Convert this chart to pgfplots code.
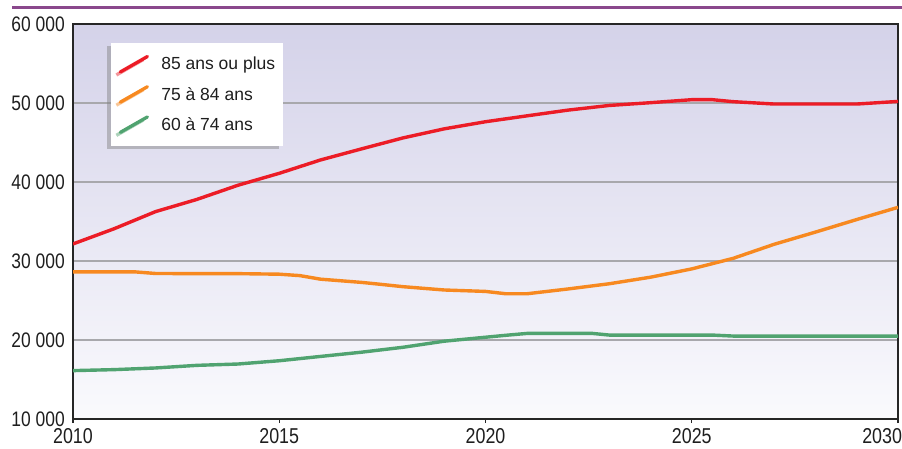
\documentclass[border=0pt]{standalone}
\usepackage{fontspec}
\setmainfont{Liberation Sans}
\newfontfamily\narrowfont{Liberation Sans}[FakeStretch=0.83]
\usepackage{pgfplots}
\pgfplotsset{compat=1.18}
\usetikzlibrary{shadows}
\definecolor{cred}{RGB}{236,28,38}
\definecolor{corange}{RGB}{247,137,32}
\definecolor{cgreen}{RGB}{80,163,112}
\definecolor{bgtop}{RGB}{212,210,233}
\definecolor{bgbot}{RGB}{250,250,253}
\definecolor{cpurple}{RGB}{138,72,140}
\definecolor{cgrid}{RGB}{168,168,172}
\definecolor{ctext}{RGB}{30,30,30}
\begin{document}
\begin{tikzpicture}[x=1pt,y=1pt]
\useasboundingbox (0,0) rectangle (902,448);
\clip (0,0) rectangle (902,448);
\draw[cpurple, line width=3pt] (12,440.7) -- (902,440.7);
\begin{axis}[
  at={(73pt,29pt)}, anchor=south west,
  width=825pt, height=395pt, scale only axis,
  xmin=2010, xmax=2030, ymin=10000, ymax=60000,
  scaled y ticks=false, scaled x ticks=false,
  xtick={2010,2015,2020,2025,2030},
  xticklabels={\mbox{2010},\mbox{2015},\mbox{2020},\mbox{2025},\makebox[0pt][r]{2030\kern-4pt}},
  ytick={10000,20000,30000,40000,50000,60000},
  yticklabels={\mbox{10 000},\mbox{20 000},\mbox{30 000},\mbox{40 000},\mbox{50 000},\mbox{60 000}},
  ymajorgrids, grid style={cgrid, line width=1.2pt},
  axis line style={black!85, line width=1.3pt},
  tick align=outside, major tick length=4pt,
  xtick pos=bottom, ytick pos=left,
  ytick style={draw=none},
  xtick style={black!85, line width=1.2pt},
  yticklabel style={font=\fontsize{21}{21}\selectfont\narrowfont, anchor=east, inner sep=0pt, xshift=-4pt, text=ctext},
  xticklabel style={font=\fontsize{21.5}{22}\selectfont\narrowfont, anchor=north, inner sep=0pt, yshift=-5pt, text=ctext},
  axis background/.style={shade, top color=bgtop, bottom color=bgbot},
  legend style={at={(0.0461,0.9527)}, anchor=north west, draw=none, fill=white,
    font=\fontsize{17.5}{18}\selectfont, text=ctext,
    drop shadow={shadow xshift=-4pt, shadow yshift=-3pt, fill=gray, opacity=0.45},
    inner xsep=7.5pt, inner ysep=12pt, row sep=11.5pt,
    nodes={inner sep=0pt},
    /tikz/every odd column/.append style={column sep=12.3pt}},
  legend cell align=left,
  legend image code/.code={\draw[#1, line width=3.3pt, line cap=round] (0pt,-7.7pt) -- (27pt,7.7pt);},
  every axis plot/.append style={line width=3.4pt, line join=round},
]
\addplot[cred] coordinates {
(2010,32160) (2011,34090) (2012,36250) (2013,37790) (2014,39590) (2015,41100)
(2016,42790) (2017,44200) (2018,45580) (2019,46730) (2020,47630) (2021,48370)
(2022,49100) (2023,49690) (2024,50040) (2025,50420) (2025.5,50420) (2026,50170)
(2027,49870) (2028,49870) (2029,49870) (2030,50200)};
\addlegendentry{85 ans ou plus}
\addplot[corange] coordinates {
(2010,28625) (2011,28625) (2011.5,28625) (2012,28420) (2013,28400) (2014,28400)
(2015,28330) (2015.5,28150) (2016,27700) (2017,27290) (2017.4,27080) (2018,26750)
(2019,26330) (2020,26150) (2020.5,25850) (2021,25850) (2022,26460) (2023,27120)
(2024,27950) (2025,29000) (2026,30330) (2027,32120) (2028,33660) (2029,35250)
(2030,36790)};
\addlegendentry{75 à 84 ans}
\addplot[cgreen] coordinates {
(2010,16125) (2011,16250) (2012,16460) (2013,16790) (2014,16960) (2015,17375)
(2016,17920) (2017,18460) (2018,19080) (2019,19850) (2020,20350) (2020.5,20600)
(2021,20830) (2022,20830) (2022.6,20830) (2023,20625) (2024,20625) (2025,20625)
(2025.5,20625) (2026,20500) (2027,20500) (2028,20500) (2029,20500) (2030,20500)};
\addlegendentry{60 à 74 ans}
\end{axis}
\end{tikzpicture}
\end{document}
